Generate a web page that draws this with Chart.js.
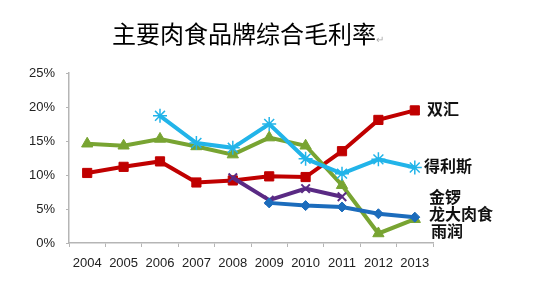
<!DOCTYPE html>
<html>
<head>
<meta charset="utf-8">
<script src="https://cdn.jsdelivr.net/npm/chart.js@4/dist/chart.umd.min.js"></script>
<style>
  html, body { margin: 0; padding: 0; background: #fff; }
  #wrap { position: relative; width: 542px; height: 286px; overflow: hidden; }
  #title {
    position: absolute; left: 112px; top: 17px;
    font: 24px "Noto Sans CJK SC", sans-serif; line-height: 32px; color: #000;
    white-space: nowrap;
  }
  #title span { font-size: 10px; color: #aaa; }
  .lbl {
    position: absolute; font: bold 16px "Noto Sans CJK SC", sans-serif;
    line-height: 18px; color: #111; white-space: nowrap;
  }
</style>
</head>
<body>
<div id="wrap">
  <canvas id="dataChart" width="542" height="286"></canvas>
  <div id="title">主要肉食品牌综合毛利率<span>↵</span></div>
  <div class="lbl" style="left:427px; top:99px;">双汇</div>
  <div class="lbl" style="left:424px; top:156px;">得利斯</div>
  <div class="lbl" style="left:429px; top:187px;">金锣</div>
  <div class="lbl" style="left:429px; top:204px;">龙大肉食</div>
  <div class="lbl" style="left:431px; top:221px;">雨润</div>
</div>
<script>
const years = ['2004', '2005', '2006', '2007', '2008', '2009', '2010', '2011', '2012', '2013'];
const shuanghui = [10.3, 11.2, 12.0, 8.9, 9.2, 9.8, 9.7, 13.5, 18.1, 19.5];
const delisi = [null, null, 18.7, 14.7, 14.0, 17.5, 12.4, 10.2, 12.3, 11.1];
const jinluo = [null, null, null, null, 9.6, 6.3, 8.0, 6.8, null, null];
const longda = [null, null, null, null, null, 5.9, 5.5, 5.3, 4.3, 3.8];
const yurun = [14.6, 14.3, 15.3, 14.2, 13.0, 15.5, 14.3, 8.5, 1.4, 3.5];

function series(label, data, color, style, radius, pbw) {
  return {
    label: label,
    data: data,
    borderColor: color,
    backgroundColor: color,
    borderWidth: 4,
    pointStyle: style,
    pointRadius: radius,
    pointBorderWidth: pbw,
    pointBorderColor: color,
    tension: 0,
    fill: false,
    spanGaps: false
  };
}

const ctx = document.getElementById('dataChart').getContext('2d');
const dataChart = new Chart(ctx, {
  type: 'line',
  data: {
    labels: years,
    datasets: [
      series('龙大肉食', longda, '#1c6cbc', 'rectRot', 5, 1),
      series('金锣', jinluo, '#5a2a84', 'crossRot', 6, 2),
      series('得利斯', delisi, '#22b4e9', 'star', 7, 1.5),
      series('雨润', yurun, '#78a432', 'triangle', 6.5, 1),
      series('双汇', shuanghui, '#c00000', 'rect', 6.5, 1)
    ]
  },
  options: {
    responsive: false,
    animation: false,
    layout: { padding: { left: 0, right: 109, top: 73, bottom: 0 } },
    scales: {
      x: {
        offset: true,
        afterFit: s => { s.height = 43; },
        border: { display: true, color: '#b5b5b5', width: 1.5 },
        grid: { display: true, drawOnChartArea: false, tickLength: 4, color: '#b5b5b5', offset: true },
        ticks: { color: '#222', padding: 9, font: { family: 'Liberation Sans', size: 13 }, maxRotation: 0 }
      },
      y: {
        min: 0,
        max: 25,
        afterFit: s => { s.width = 69; },
        border: { display: true, color: '#b5b5b5', width: 1.5 },
        grid: { display: true, drawOnChartArea: false, tickLength: 3, color: '#b5b5b5' },
        ticks: {
          stepSize: 5,
          padding: 11,
          color: '#222',
          font: { family: 'Liberation Sans', size: 13 },
          callback: v => v + '%'
        }
      }
    },
    plugins: {
      legend: { display: false },
      tooltip: { enabled: false }
    }
  }
});
</script>
</body>
</html>
